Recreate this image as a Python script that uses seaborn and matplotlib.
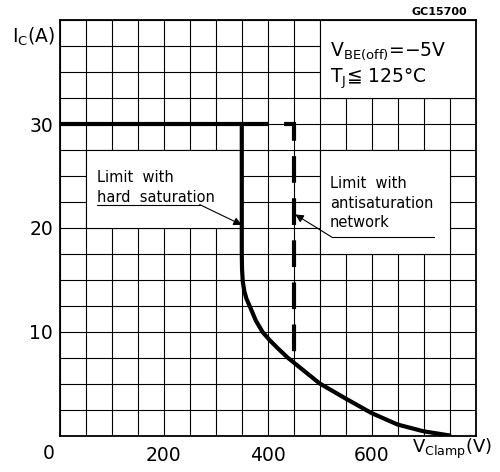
# Limite de área de operação segura (RBSOA) - recriação
import seaborn as sns
import matplotlib.pyplot as plt
from matplotlib.patches import Rectangle
from matplotlib.ticker import MultipleLocator

# Dados
v_hard = [0, 350, 350, 350.5, 352, 355, 359, 366, 377, 390, 403, 420, 438, 464, 500, 550, 600, 650, 700, 750]
i_hard = [30, 30, 17.5, 16, 14.8, 13.9, 13.2, 12.4, 11.1, 10, 9.25, 8.4, 7.55, 6.5, 5.05, 3.6, 2.2, 1.1, 0.45, 0.05]
v_anti = [350, 450, 450]
i_anti = [30, 30, 7.0]
x_ticks = [200, 400, 600]
y_ticks = [10, 20, 30]

sns.set_style('white')
plt.rcParams['font.family'] = ['DejaVu Sans']
plt.rcParams['mathtext.fontset'] = 'dejavusans'
plt.rcParams['text.color'] = 'black'

fig = plt.figure(figsize=(5, 4.72), dpi=100)
ax = fig.add_axes([0.12, 0.0763, 0.831, 0.8813])

# linhas das curvas
sns.lineplot(x=v_hard, y=i_hard, sort=False, estimator=None, color='black',
             lw=3, ax=ax, zorder=4, solid_joinstyle='miter')
sns.lineplot(x=v_anti, y=i_anti, sort=False, estimator=None, color='black',
             lw=3, ax=ax, zorder=4)
ax.lines[-1].set_dashes([6.4, 3.7])
ax.lines[-1].set_dash_joinstyle('miter')
ax.lines[-1].set_dash_capstyle('butt')

ax.set_xlim(0, 800)
ax.set_ylim(0, 40)
ax.set_xticks(x_ticks)
ax.set_yticks(y_ticks)
ax.xaxis.set_minor_locator(MultipleLocator(50))
ax.yaxis.set_minor_locator(MultipleLocator(2.5))
ax.grid(which='both', color='black', lw=0.8)
ax.tick_params(which='both', length=0, labelsize=13.5, colors='black')
ax.tick_params(axis='x', pad=7)
ax.tick_params(axis='y', pad=5)
for s in ax.spines.values():
    s.set_color('black')
    s.set_linewidth(1.3)

# caixas brancas para os textos
for (x0, y0, w, h) in [(500, 32.5, 300, 7.5), (50, 20, 300, 7.5), (500, 17.5, 250, 10)]:
    ax.add_patch(Rectangle((x0, y0), w, h, facecolor='white', edgecolor='black',
                           lw=0.8, zorder=2))

ax.text(520, 36.6, r'V$_{\mathregular{BE(off)}}$=$-$5V', fontsize=13.5, va='baseline', zorder=5)
ax.text(520, 34.0, r'T$_{\mathregular{J}}$≦ 125°C', fontsize=13.5, va='baseline', zorder=5)

ax.text(71, 24.4, 'Limit  with', fontsize=10.5, va='baseline', zorder=5)
ax.text(71, 22.5, 'hard  saturation', fontsize=10.5, va='baseline', zorder=5)
ax.plot([71, 269], [22.25, 22.25], color='black', lw=0.8, zorder=5)
ax.annotate('', xy=(350, 20.3), xytext=(269, 22.25), zorder=5,
            arrowprops=dict(arrowstyle='-|>', color='black', lw=0.8,
                            mutation_scale=12, shrinkA=0, shrinkB=0))

ax.text(520, 23.85, 'Limit  with', fontsize=10.5, va='baseline', zorder=5)
ax.text(520, 21.95, 'antisaturation', fontsize=10.5, va='baseline', zorder=5)
ax.text(520, 20.1, 'network', fontsize=10.5, va='baseline', zorder=5)
ax.plot([524, 720], [19.1, 19.1], color='black', lw=0.8, zorder=5)
ax.annotate('', xy=(453, 21.3), xytext=(524, 19.1), zorder=5,
            arrowprops=dict(arrowstyle='-|>', color='black', lw=0.8,
                            mutation_scale=12, shrinkA=0, shrinkB=0))

# rótulos dos eixos
fig.text(0.11, 0.909, r'I$_{\mathregular{C}}$(A)', fontsize=13.5, ha='right', va='baseline')
fig.text(0.824, 0.040, r'V$_{\mathregular{Clamp}}$(V)', fontsize=13, ha='left', va='baseline')
fig.text(0.098, 0.040, '0', fontsize=13.5, ha='center', va='center')
fig.text(0.934, 0.975, 'GC15700', fontsize=8, fontweight='bold', ha='right', va='center')

fig.savefig('out.png', dpi=100)
